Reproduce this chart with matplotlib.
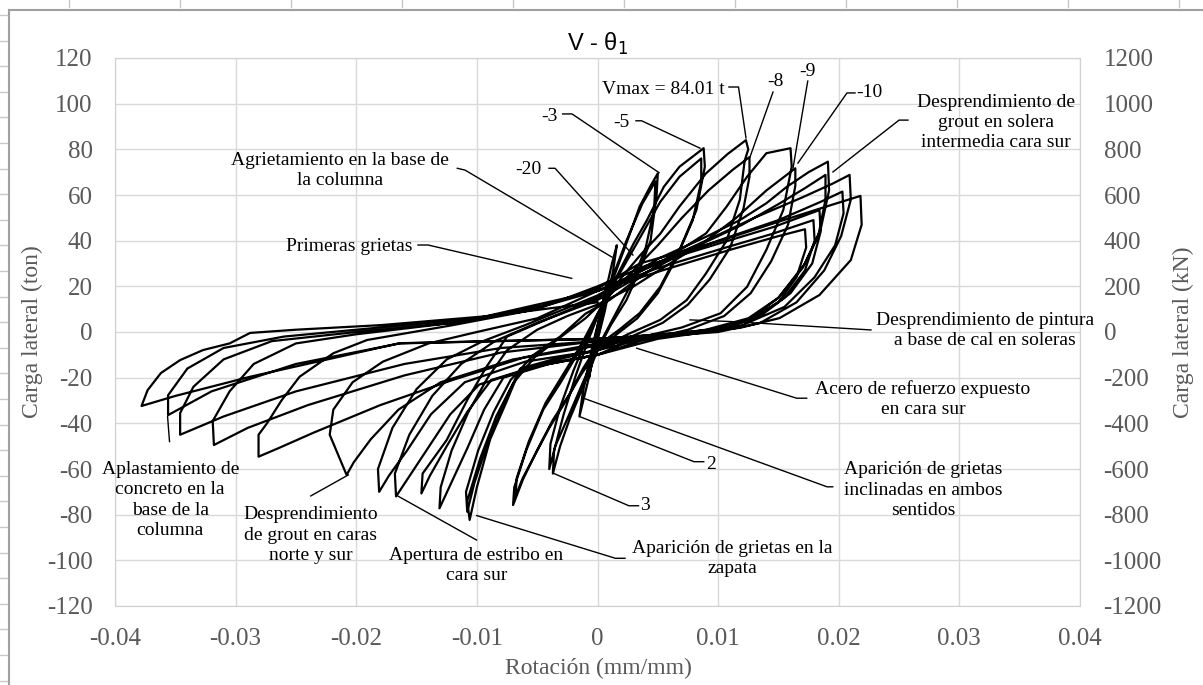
import numpy as np
import matplotlib.pyplot as plt
from matplotlib.lines import Line2D

plt.rcParams['font.family'] = ['Liberation Serif', 'DejaVu Serif']
plt.rcParams['axes.unicode_minus'] = False

# ---- datos de los ciclos (rotación mm/mm, carga ton) ----
rot_01 = [0, 0.0004, 0.0008, 0.0006, 0.0001, -0.0003, -0.0007, -0.0005, -0.0001]
ton_01 = [0, 12, 22, 13, 1, -9, -20, -11, 0]
rot_02 = [0.0006, 0.0012, 0.0016, 0.0013, 0.0006, -0.0002, -0.0009, -0.0015, -0.0012, -0.0005, 0.0001]
ton_02 = [16, 30, 38, 27, 9, -8, -24, -37, -26, -8, 5]
rot_03 = [0.0012, 0.0022, 0.0035, 0.0044, 0.0050, 0.0049, 0.0044, 0.0034, 0.0024, 0.0011, 0.0000,
          -0.0012, -0.0023, -0.0031, -0.0037, -0.0036, -0.0028, -0.0018, -0.0008, 0.0001]
ton_03 = [22, 36, 55, 64, 69.5, 60, 40, 26, 14, 3, -8, -24, -38, -50, -62, -52, -36, -19, -4, 8]
rot_04 = [0.0011, 0.0024, 0.0037, 0.0048, 0.0047, 0.0040, 0.0028, 0.0014, 0.0001, -0.0012, -0.0025,
          -0.0035, -0.0040, -0.0039, -0.0031, -0.0020, -0.0009, 0.0002]
ton_04 = [22, 40, 56, 66, 54, 37, 21, 7, -6, -22, -38, -50, -60, -49, -33, -17, -3, 10]
rot_05 = [0.0020, 0.0030, 0.0041, 0.0055, 0.0068, 0.0088, 0.0089, 0.0082, 0.0068, 0.0052, 0.0035, 0.0018,
          0.0000, -0.0012, -0.0023, -0.0037, -0.0050, -0.0062, -0.0070, -0.0069, -0.0059, -0.0045, -0.0031,
          -0.0017, -0.0004]
ton_05 = [28.6, 38.8, 49, 63.6, 72.4, 80.5, 72.4, 53.4, 36, 19.8, 8.3, 1, -6, -16, -27, -38.5, -51.7, -64.8,
          -75.8, -68, -51.7, -34, -22.5, -10, 3]
rot_06 = [0.0008, 0.0022, 0.0036, 0.0052, 0.0068, 0.0086, 0.0086, 0.0079, 0.0065, 0.0050, 0.0033, 0.0016,
          0.0000, -0.0014, -0.0026, -0.0040, -0.0053, -0.0062, -0.0068, -0.0067, -0.0057, -0.0043, -0.0029,
          -0.0014, 0.0000]
ton_06 = [16, 29, 42, 57, 68, 76, 66, 49, 32, 17, 6, -1, -8, -19, -30, -42, -55, -64, -72, -64, -48, -31,
          -19, -6, 8]
rot_07 = [0.0020, 0.0036, 0.0052, 0.0068, 0.0090, 0.0108, 0.0123, 0.0125, 0.0122, 0.0118, 0.0107, 0.0090,
          0.0074, 0.0052, 0.0025, 0.0000, -0.0030, -0.0064, -0.0075, -0.0089, -0.0100, -0.0106, -0.0108,
          -0.0097, -0.0084, -0.0070, -0.0052, -0.0030, -0.0010]
ton_07 = [24, 34, 43, 55, 69.5, 78, 84.01, 80, 75, 58, 40, 25.7, 14, 5.3, -1, -8, -11, -16, -30, -47, -68,
          -82.3, -74, -55, -37, -22.5, -11, -2, 6]
rot_08 = [0.0010, 0.0030, 0.0050, 0.0070, 0.0092, 0.0112, 0.0126, 0.0126, 0.0121, 0.0110, 0.0093, 0.0075,
          0.0054, 0.0028, 0.0000, -0.0033, -0.0066, -0.0078, -0.0092, -0.0102, -0.0108, -0.0109, -0.0099,
          -0.0086, -0.0072, -0.0053, -0.0031, -0.0010]
ton_08 = [16, 27, 38, 50, 62, 71, 76.6, 68, 54, 37, 23, 12, 4, -2, -8, -12, -18, -32, -50, -66, -78.7, -70,
          -52, -35, -21, -10, -2, 8]
rot_09 = [0.0010, 0.0030, 0.0060, 0.0090, 0.0107, 0.0124, 0.0140, 0.0160, 0.0161, 0.0154, 0.0140, 0.0124,
          0.0102, 0.0070, 0.0030, 0.0000, -0.0040, -0.0078, -0.0094, -0.0108, -0.0122, -0.0131, -0.0130,
          -0.0121, -0.0107, -0.0091, -0.0075, -0.0050, -0.0025]
ton_09 = [14, 22, 33, 43.2, 54.9, 68, 78.3, 80.5, 72.4, 53.4, 36, 19.8, 8.2, 2, -3, -10, -14, -20, -34, -51,
          -67, -77.2, -68, -52, -35, -20, -8, 1, 7]
rot_10 = [0.0000, 0.0030, 0.0060, 0.0090, 0.0115, 0.0140, 0.0164, 0.0164, 0.0158, 0.0144, 0.0127, 0.0105,
          0.0075, 0.0035, 0.0000, -0.0045, -0.0088, -0.0108, -0.0125, -0.0139, -0.0146, -0.0145, -0.0125,
          -0.0108, -0.0092, -0.0075, -0.0040]
ton_10 = [12, 20, 30, 40, 50, 62, 71.7, 64, 47, 31, 17, 7, 1, -4, -10, -14, -21, -35, -50, -63, -70.7, -62,
          -47.3, -29.8, -15.2, -2, 6]
rot_11 = [0.0000, 0.0020, 0.0050, 0.0090, 0.0118, 0.0140, 0.0157, 0.0175, 0.0191, 0.0192, 0.0185, 0.0172,
          0.0150, 0.0125, 0.0090, 0.0050, 0.0000, -0.0050, -0.0098, -0.0122, -0.0142, -0.0157, -0.0167,
          -0.0168, -0.0156, -0.0137, -0.0113, -0.0085, -0.0050]
ton_11 = [15, 22, 32, 41.7, 49, 56.4, 63.6, 70, 74.6, 62, 45, 30, 15, 5, 0, -3, -10, -15, -23, -36, -52, -64,
          -72, -62, -45, -28, -14, -4, 4]
rot_12 = [0.0000, 0.0040, 0.0080, 0.0120, 0.0150, 0.0172, 0.0189, 0.0189, 0.0183, 0.0170, 0.0150, 0.0125,
          0.0090, 0.0045, 0.0000, -0.0060, -0.0110, -0.0138, -0.0158, -0.0173, -0.0181, -0.0182, -0.0170,
          -0.0150, -0.0125, -0.0095, -0.0060]
ton_12 = [14, 26, 37, 47, 56, 63, 68.8, 58, 42, 28, 15, 6, 1, -2, -8, -13, -22, -36, -52, -63, -70, -60, -42,
          -25, -12, -4, 3]
rot_13 = [0.0000, 0.0040, 0.0090, 0.0130, 0.0170, 0.0195, 0.0209, 0.0210, 0.0202, 0.0188, 0.0165, 0.0135,
          0.0100, 0.0050, 0.0000, -0.0070, -0.0130, -0.0165, -0.0188, -0.0202, -0.0208, -0.0222, -0.0219,
          -0.0203, -0.0178, -0.0140, -0.0100, -0.0050]
ton_13 = [16, 28, 40, 50, 59, 65, 68.8, 58, 42, 27, 13, 4, 0, -2, -6, -12, -22, -34, -47, -57, -62.6, -45,
          -34, -22, -13, -5, 0, 6]
rot_14 = [0.0000, 0.0050, 0.0100, 0.0150, 0.0185, 0.0203, 0.0204, 0.0197, 0.0180, 0.0155, 0.0120, 0.0080,
          0.0040, 0.0000, -0.0060, -0.0120, -0.0180, -0.0235, -0.0265, -0.0281, -0.0281, -0.0274, -0.0262,
          -0.0247, -0.0219, -0.0191, -0.0120, -0.0060]
ton_14 = [18, 30, 40, 49, 57, 61.5, 52, 38, 24, 11, 3, 0, -2, -5, -11, -21, -32, -44, -51, -54.6, -45, -40,
          -30, -19.6, -9.3, -3.5, 3, 9]
rot_15 = [0.0000, 0.0035, 0.0102, 0.0146, 0.0190, 0.0218, 0.0219, 0.0210, 0.0184, 0.0151, 0.0118, 0.0080,
          0.0040, 0.0000, -0.0080, -0.0160, -0.0240, -0.0290, -0.0318, -0.0319, -0.0305, -0.0285, -0.0250,
          -0.0200, -0.0120, -0.0050]
ton_15 = [19, 30, 40, 47.6, 55, 59.6, 47, 31.5, 16.2, 6.1, 1.8, 0, -1.5, -4, -9, -19, -32, -42, -49.5, -39,
          -26, -14, -5, -1, 4, 10]
rot_16 = [0.0000, 0.0040, 0.0090, 0.0146, 0.0184, 0.0185, 0.0178, 0.0160, 0.0135, 0.0100, 0.0060, 0.0000,
          -0.0080, -0.0160, -0.0250, -0.0310, -0.0346, -0.0346, -0.0335, -0.0310, -0.0270, -0.0200, -0.0120,
          -0.0040]
ton_16 = [20, 29, 37, 46, 53.4, 44, 30, 17, 7, 1.5, -1, -4, -7, -14, -26, -37, -45, -35.5, -24, -12, -4, 0,
          4, 12]
rot_17 = [0.0000, 0.0050, 0.0100, 0.0145, 0.0179, 0.0180, 0.0172, 0.0155, 0.0130, 0.0100, 0.0050, 0.0000,
          -0.0164, -0.0250, -0.0320, -0.0356, -0.0356, -0.0340, -0.0310, -0.0260, -0.0200, -0.0100]
ton_17 = [18, 28, 36, 43, 49, 40, 27, 15, 6, 1, -1.5, -3, -5, -14, -26, -36.4, -27.7, -16, -7, -2, 1, 6]
rot_18 = [0.0000, 0.0060, 0.0110, 0.0150, 0.0172, 0.0173, 0.0165, 0.0150, 0.0125, 0.0090, 0.0040, 0.0000,
          -0.0164, -0.0288, -0.0350, -0.0378, -0.0373, -0.0362, -0.0346, -0.0327, -0.0305, -0.0288, -0.0250,
          -0.0180, -0.0090, 0.0000]
ton_18 = [18, 28, 36, 42, 45, 37, 24, 13, 5, 0.5, -1.5, -3, -4.9, -19.6, -28, -32.4, -25.5, -18, -12.3, -7.9,
          -5, -0.4, 1, 3, 7, 13]

rot = np.concatenate([rot_01, rot_02, rot_03, rot_04, rot_05, rot_06, rot_07, rot_08, rot_09,
                      rot_10, rot_11, rot_12, rot_13, rot_14, rot_15, rot_16, rot_17, rot_18])
ton = np.concatenate([ton_01, ton_02, ton_03, ton_04, ton_05, ton_06, ton_07, ton_08, ton_09,
                      ton_10, ton_11, ton_12, ton_13, ton_14, ton_15, ton_16, ton_17, ton_18])

x_ticks = [-0.04, -0.03, -0.02, -0.01, 0, 0.01, 0.02, 0.03, 0.04]
x_tick_labels = ['-0.04', '-0.03', '-0.02', '-0.01', '0', '0.01', '0.02', '0.03', '0.04']
y_ticks = [-120, -100, -80, -60, -40, -20, 0, 20, 40, 60, 80, 100, 120]
y2_ticks = [-1200, -1000, -800, -600, -400, -200, 0, 200, 400, 600, 800, 1000, 1200]

# anotaciones: texto, posicion del texto, linea guia
notas = [
    ('Vmax = 84.01 t', (0.00543, 106.0), [(0.0109, 107.3), (0.01169, 107.3), (0.01231, 85.0)]),
    ('-8', (0.01471, 109.6), [(0.01455, 105.1), (0.01264, 76.6)]),
    ('-9', (0.01743, 114.0), [(0.01743, 109.9), (0.01621, 71.8)]),
    ('-10', (0.02251, 104.7), [(0.02135, 104.7), (0.02068, 104.7), (0.01662, 74.0)]),
    ('Desprendimiento de\ngrout en solera\nintermedia cara sur', (0.03304, 91.7),
     [(0.02574, 92.8), (0.0250, 92.8), (0.01952, 70.1)]),
    ('Desprendimiento de pintura\na base de cal en soleras', (0.03212, 0.5),
     [(0.02267, 0.9), (0.0114, 4.5), (0.00767, 5.3)]),
    ('Acero de refuerzo expuesto\nen cara sur', (0.02698, -29.4),
     [(0.01734, -29.0), (0.01651, -29.0), (0.00325, -7.1)]),
    ('2', (0.00945, -58.2), [(0.00881, -56.8), (0.0080, -56.8), (-0.00145, -37.1)]),
    ('Aparición de grietas\ninclinadas en ambos\nsentidos', (0.02698, -69.2),
     [(0.0195, -67.8), (0.01903, -67.8), (-0.0012, -28.9)]),
    ('3', (0.00397, -76.1), [(0.0034, -76.1), (0.0026, -76.1), (-0.00369, -61.8)]),
    ('Aparición de grietas en la\nzapata', (0.01121, -99.2),
     [(0.00228, -99.1), (0.00148, -99.1), (-0.01001, -80.4)]),
    ('Apertura de estribo en\ncara sur', (-0.01003, -102.3), [(-0.01003, -91.1), (-0.0167, -71.4)]),
    ('Desprendimiento\nde grout en caras\nnorte y sur', (-0.02377, -89.0),
     [(-0.02377, -71.8), (-0.02066, -62.6)]),
    ('Aplastamiento de\nconcreto en la\nbase de la\ncolumna', (-0.03542, -73.6),
     [(-0.03548, -48.0), (-0.03564, -37.1)]),
    ('Primeras grietas', (-0.0206, 37.4), [(-0.01488, 38.1), (-0.01405, 38.1), (-0.00214, 23.5)]),
    ('Agrietamiento en la base de\nla columna', (-0.02136, 70.7),
     [(-0.01162, 71.7), (-0.01098, 70.9), (0.0012, 32.8)]),
    ('-20', (-0.00576, 71.3), [(-0.00402, 71.7), (-0.00352, 71.7), (0.00294, 33.7)]),
    ('-3', (-0.0040, 94.3), [(-0.00289, 95.5), (-0.00211, 95.5), (0.0051, 69.8)]),
    ('-5', (0.0020, 91.7), [(0.00319, 92.5), (0.00366, 92.5), (0.0085, 80.5)]),
]

W, H = 1203, 685
fig = plt.figure(figsize=(W / 100, H / 100), dpi=100)
ax = fig.add_axes([115 / W, 1 - 606 / H, 965 / W, 548 / H])

ax.plot(rot, ton, color='black', lw=1.6, solid_joinstyle='round', zorder=3)

ax.set_xlim(-0.04, 0.04)
ax.set_ylim(-120, 120)
ax.set_xticks(x_ticks)
ax.set_xticklabels(x_tick_labels)
ax.set_yticks(y_ticks)
ax.grid(True, color='#d9d9d9', lw=1.0)
ax.set_axisbelow(True)
for s in ax.spines.values():
    s.set_color('#d0d0d0')
ax.tick_params(length=0, labelsize=18, colors='#595959')
ax.tick_params(axis='y', pad=16)
ax.tick_params(axis='x', pad=16)

ax2 = ax.twinx()
ax2.set_ylim(-1200, 1200)
ax2.set_yticks(y2_ticks)
ax2.tick_params(length=0, labelsize=18, colors='#595959', pad=17)
for s in ax2.spines.values():
    s.set_visible(False)

for txt, pos, guia in notas:
    ax.text(pos[0], pos[1], txt, ha='center', va='center', fontsize=14, linespacing=1.25, zorder=5)
    gx, gy = zip(*guia)
    ax.plot(gx, gy, color='black', lw=1.0, zorder=4, clip_on=False)

fig.text(598 / W, 1 - 44 / H, 'V - θ$_1$', ha='center', va='center', fontsize=17,
         family=['Liberation Sans', 'DejaVu Sans'])
fig.text(32 / W, 1 - 332 / H, 'Carga lateral (ton)', rotation=90, ha='center', va='center',
         fontsize=17, color='#595959')
fig.text(1183 / W, 1 - 332 / H, 'Carga lateral (kN)', rotation=90, ha='center', va='center',
         fontsize=17, color='#595959')
fig.text(598 / W, 1 - 668 / H, 'Rotación (mm/mm)', ha='center', va='center', fontsize=17, color='#595959')

# marco de la hoja de calculo
fig.add_artist(Line2D([9 / W, 9 / W], [0, 1 - 10 / H], transform=fig.transFigure, color='#a0a0a0', lw=1.5))
fig.add_artist(Line2D([9 / W, 1], [1 - 10 / H, 1 - 10 / H], transform=fig.transFigure, color='#a0a0a0', lw=1.5))
for cx in np.arange(69, W, 111):
    fig.add_artist(Line2D([cx / W, cx / W], [1, 1 - 7 / H], transform=fig.transFigure, color='#c8c8c8', lw=1))
for ry in np.arange(15, H, 25.6):
    fig.add_artist(Line2D([0, 7 / W], [1 - ry / H, 1 - ry / H], transform=fig.transFigure, color='#c8c8c8', lw=1))

fig.savefig('out.png', dpi=100)
